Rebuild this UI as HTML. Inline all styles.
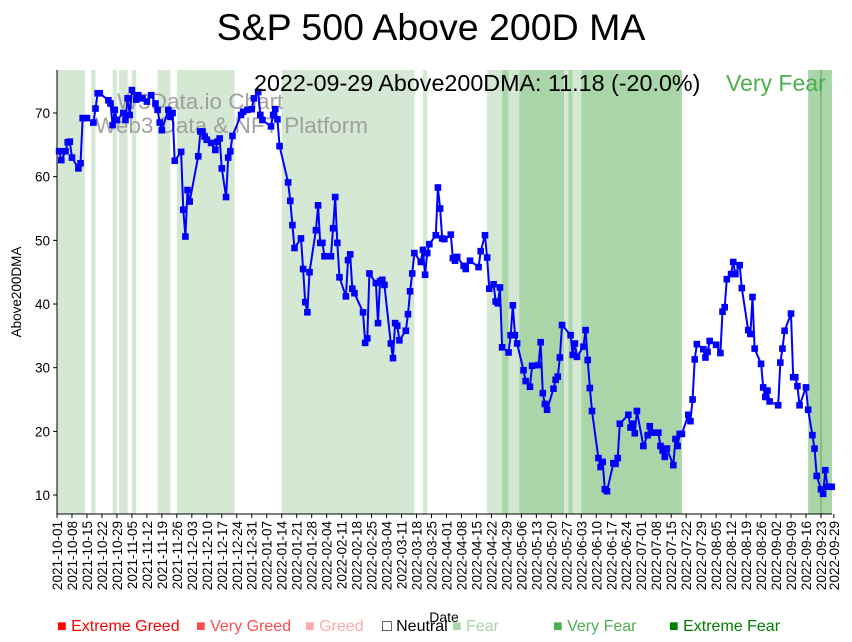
<!DOCTYPE html>
<html><head><meta charset="utf-8"><style>
body{margin:0;background:#fff;}
svg{display:block;font-family:"Liberation Sans","DejaVu Sans",sans-serif;}
</style></head><body>
<svg id="chart" width="852" height="642" viewBox="0 0 852 642">
<text x="431" y="40" text-anchor="middle" font-size="37.5">S&amp;P 500 Above 200D MA</text>
<g id="bands"></g>
<g id="watermark" fill="#999" font-size="22.5" opacity="0.9">
<text x="117" y="109">W3Data.io Chart</text>
<text x="95" y="133">Web3 Data &amp; NFT Platform</text>
</g>
<g id="grid"></g>
<g id="series"></g>
<text x="254" y="91" font-size="23.3">2022-09-29 Above200DMA: 11.18 (-20.0%)</text>
<text x="726" y="91" font-size="23" fill="#4caf50">Very Fear</text>
<text x="21" y="292" font-size="13.5" text-anchor="middle" transform="rotate(-90 21 292)">Above200DMA</text>
<text x="444" y="622" font-size="14" text-anchor="middle">Date</text>
<g id="legend" font-size="16"></g>
</svg>
<script>
const startDate = "2021-10-01";
const dayOffsets = [1,2,4,5,6,7,10,11,12,14,17,18,19,20,24,25,26,27,28,31,32,33,34,35,37,38,40,42,44,46,47,48,49,52,53,54,55,58,59,60,61,62,66,67,68,69,70,72,74,75,76,77,79,80,81,82,86,87,89,91,92,94,95,96,100,101,102,103,104,108,109,110,111,114,115,116,117,118,121,122,123,124,125,128,129,130,131,132,135,136,137,138,139,143,144,145,146,149,150,151,152,153,156,157,158,159,160,163,164,165,166,167,170,171,172,173,174,177,178,179,180,181,184,185,186,187,190,191,193,197,198,200,201,202,204,205,206,207,208,211,212,213,214,215,218,219,221,222,225,226,227,228,229,232,233,234,235,236,240,241,242,243,246,247,248,249,250,253,254,255,256,257,260,261,262,263,267,268,269,270,271,274,276,277,278,281,282,283,284,285,288,289,290,291,292,295,296,297,298,299,302,303,304,305,308,310,311,312,313,315,316,317,319,320,323,324,325,326,329,330,331,332,333,337,338,339,340,343,344,345,346,347,350,351,353,354,355,357,358,359,360,362];
const values = [64.0,62.6,64.0,65.4,65.5,63.0,61.3,62.1,69.2,69.2,68.5,70.7,73.1,73.1,72.0,71.5,68.1,70.5,68.9,70.0,68.9,72.3,69.7,73.6,72.1,72.8,72.3,71.8,72.8,71.5,70.5,68.5,67.3,70.5,69.4,70.0,62.5,63.9,54.8,50.6,57.9,56.1,63.2,67.1,67.1,66.3,65.8,65.3,64.2,65.5,66.0,61.3,56.8,63.0,64.0,66.4,69.7,70.2,70.5,70.6,72.3,73.3,69.7,68.9,67.9,69.7,70.6,69.0,64.8,59.1,56.2,52.4,48.8,50.3,45.5,40.3,38.7,45.0,51.6,55.5,49.6,49.6,47.5,47.5,51.9,56.8,49.6,44.2,41.2,46.9,47.8,42.4,41.7,38.7,33.9,34.6,44.8,43.3,37.0,43.6,43.8,43.0,33.8,31.5,37.0,36.6,34.3,35.8,38.4,42.0,44.8,48.0,46.6,48.5,44.6,48.0,49.4,50.8,58.3,55.0,50.3,50.2,50.9,47.2,46.8,47.4,46.0,45.5,46.8,45.8,48.3,50.8,47.3,42.4,43.1,40.4,40.1,42.6,33.2,32.4,35.1,39.8,35.1,33.8,29.6,27.9,27.0,30.3,30.4,34.0,26.0,24.3,23.4,26.7,28.1,28.6,31.6,36.7,35.1,32.0,33.8,31.7,33.3,35.9,31.2,26.8,23.2,15.8,14.4,15.2,10.9,10.6,15.0,14.9,15.8,21.2,22.6,20.6,21.2,19.7,23.2,17.7,19.4,20.8,19.8,19.8,17.7,17.0,16.0,17.3,14.7,18.8,17.7,19.6,19.6,22.6,21.6,25.0,31.3,33.7,32.9,31.6,32.5,34.2,33.6,32.3,38.8,39.5,43.9,44.7,46.6,44.7,46.1,42.5,35.9,35.3,41.1,33.0,30.6,26.9,25.4,26.4,24.7,24.1,30.8,33.0,35.8,38.5,28.5,28.5,27.1,24.1,26.9,23.4,19.4,17.3,13.0,10.9,10.2,13.9,11.3,11.3];
const yTicks = [10,20,30,40,50,60,70];
const bandStarts = [0,16,26,29,35,47,56,105,171,201,208,211,216,237,239,241,245,351,358];
const bandEnds =   [13,18,28,33,37,53,83,167,173,208,211,216,237,239,241,245,292,363,359];
const bandLevels = ["fear","fear","fear","fear","fear","fear","fear","fear","fear","fear","veryfear","fear","veryfear","fear","veryfear","fear","veryfear","veryfear","veryfear"];

const NS="http://www.w3.org/2000/svg";
const X0=57, XPD=2.14, PL=57, PR=832, PT=70, PB=514;
const x = d => X0 + d*XPD;
const y = v => 558.7 - v*6.367;
function mk(tag, attrs, parent){const e=document.createElementNS(NS,tag);for(const k in attrs)e.setAttribute(k,attrs[k]);parent.appendChild(e);return e;}
function fmt(d){const t=new Date(Date.parse(startDate+"T00:00:00Z")+d*86400000);return t.toISOString().slice(0,10);}

const bands=document.getElementById('bands');
for(let i=0;i<bandStarts.length;i++){
  const r=mk('rect',{x:Math.max(PL,x(bandStarts[i])),y:PT,width:Math.min(PR,x(bandEnds[i]))-Math.max(PL,x(bandStarts[i])),height:PB-PT,fill:bandLevels[i]==="fear"?"#d5e8d4":"#a9d5a8",opacity:bandStarts[i]===358?0.6:1},bands);
  
  
}
mk('rect',{x:820,y:PT,width:2,height:PB-PT,fill:"#7fbf7f"},bands);

const g=document.getElementById('grid');
mk('line',{x1:PL,y1:PT,x2:PL,y2:PB,stroke:"#000","stroke-width":1},g);
mk('line',{x1:PL,y1:PB,x2:PR,y2:PB,stroke:"#000","stroke-width":1},g);
yTicks.forEach(v=>{
  mk('line',{x1:PL-4,y1:y(v),x2:PL,y2:y(v),stroke:"#000"},g);
  const t=mk('text',{x:PL-7,y:y(v)+5,"text-anchor":"end","font-size":13.5},g);
  t.textContent=v;
  
  
});
const xt=[];for(let d=0;d<=357;d+=7)xt.push(d);xt.push(363);
xt.forEach(d=>{
  const px=x(d);
  mk('line',{x1:px,y1:PB,x2:px,y2:PB+4,stroke:"#000"},g);
  const t=mk('text',{x:px+5,y:PB+7,"text-anchor":"end","font-size":13.5,transform:`rotate(-90 ${px+5} ${PB+7})`},g);
  t.textContent=fmt(d);
  
  
});

const s=document.getElementById('series');
const pts=dayOffsets.map((d,i)=>x(d).toFixed(1)+","+y(values[i]).toFixed(1)).join(" ");
const pl=mk('polyline',{points:pts,fill:"none",stroke:"#0000ff","stroke-width":2},s);


dayOffsets.forEach((d,i)=>{
  const m=mk('rect',{x:x(d)-3.3,y:y(values[i])-3.3,width:6.6,height:6.6,fill:"#0000ff"},s);
  
  
});

const legNames=["Extreme Greed","Very Greed","Greed","Neutral","Fear","Very Fear","Extreme Fear"];
const legColors=["#ff0000","#ff4d4d","#ffaaaa","#000000","#a9d5a8","#4caf50","#008000"];
const legX=[57,196,305,382,452,553,669];
const lg=document.getElementById('legend');
legNames.forEach((n,i)=>{
  const t=mk('text',{x:legX[i],y:631,fill:legColors[i]},lg);
  t.textContent=(i===3?"\u25A1 ":"\u25A0 ")+n;
  
  
});
</script>
</body></html>
